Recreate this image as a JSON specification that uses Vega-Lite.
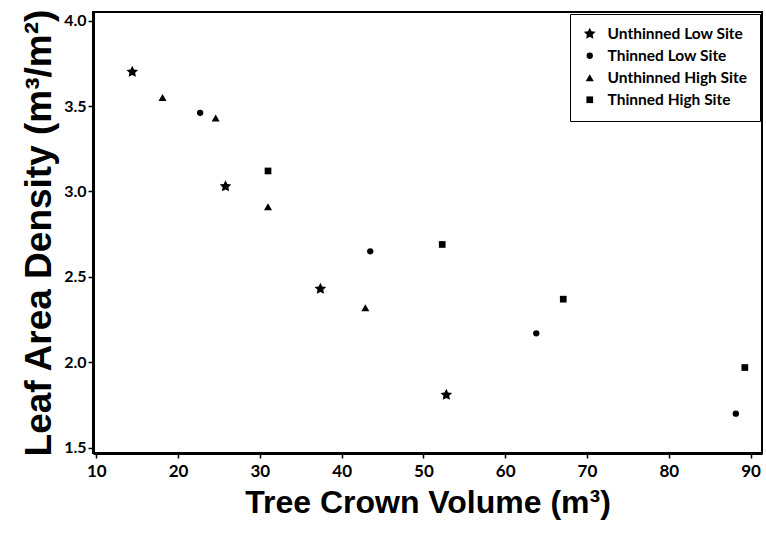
{
  "$schema": "https://vega.github.io/schema/vega-lite/v6.json",
  "autosize": {"type": "none"},
  "width": 669,
  "height": 441,
  "padding": {"left": 93, "top": 12, "right": 4, "bottom": 92},
  "background": "white",
  "config": {
    "view": {"stroke": "black", "strokeWidth": 2},
    "font": "Liberation Sans",
    "axis": {
      "domainColor": "black",
      "domainWidth": 3,
      "tickColor": "black",
      "tickWidth": 1.5,
      "tickSize": 5,
      "grid": false,
      "labelColor": "black",
      "labelFont": "Lato",
      "labelFontWeight": "bold",
      "titleColor": "black",
      "titleFont": "Liberation Sans",
      "titleFontWeight": "bold"
    }
  },
  "data": {
    "values": [
      {"volume": 14.4, "density": 3.70, "site": "Unthinned Low Site"},
      {"volume": 25.8, "density": 3.03, "site": "Unthinned Low Site"},
      {"volume": 37.4, "density": 2.43, "site": "Unthinned Low Site"},
      {"volume": 52.8, "density": 1.81, "site": "Unthinned Low Site"},
      {"volume": 22.7, "density": 3.46, "site": "Thinned Low Site"},
      {"volume": 43.5, "density": 2.65, "site": "Thinned Low Site"},
      {"volume": 63.8, "density": 2.17, "site": "Thinned Low Site"},
      {"volume": 88.2, "density": 1.70, "site": "Thinned Low Site"},
      {"volume": 18.1, "density": 3.55, "site": "Unthinned High Site"},
      {"volume": 24.6, "density": 3.43, "site": "Unthinned High Site"},
      {"volume": 31.0, "density": 2.91, "site": "Unthinned High Site"},
      {"volume": 42.9, "density": 2.32, "site": "Unthinned High Site"},
      {"volume": 31.0, "density": 3.12, "site": "Thinned High Site"},
      {"volume": 52.3, "density": 2.69, "site": "Thinned High Site"},
      {"volume": 67.1, "density": 2.37, "site": "Thinned High Site"},
      {"volume": 89.3, "density": 1.97, "site": "Thinned High Site"}
    ]
  },
  "mark": {"type": "point", "filled": true, "opacity": 1, "color": "black"},
  "encoding": {
    "x": {
      "field": "volume",
      "type": "quantitative",
      "title": "Tree Crown Volume (m³)",
      "scale": {"domain": [9.6, 91.4], "nice": false, "zero": false},
      "axis": {"values": [10, 20, 30, 40, 50, 60, 70, 80, 90], "labelFontSize": 17, "labelPadding": 5, "titlePadding": 8, "titleFontSize": 32}
    },
    "y": {
      "field": "density",
      "type": "quantitative",
      "title": "Leaf Area Density (m³/m²)",
      "scale": {"domain": [1.47, 4.05], "nice": false, "zero": false},
      "axis": {"values": [1.5, 2.0, 2.5, 3.0, 3.5, 4.0], "format": ".1f", "labelFontSize": 16, "labelPadding": 2, "titlePadding": 5, "titleFontSize": 37}
    },
    "shape": {
      "field": "site",
      "type": "nominal",
      "title": null,
      "scale": {
        "domain": ["Unthinned Low Site", "Thinned Low Site", "Unthinned High Site", "Thinned High Site"],
        "range": ["M0,-1L0.29,-0.4L0.95,-0.31L0.47,0.15L0.59,0.81L0,0.5L-0.59,0.81L-0.47,0.15L-0.95,-0.31L-0.29,-0.4Z", "circle", "triangle-up", "square"]
      },
      "legend": {
        "orient": "top-right",
        "offset": 2,
        "strokeColor": "black",
        "fillColor": "white",
        "padding": 12,
        "labelFont": "Lato",
        "labelFontWeight": "bold",
        "labelFontSize": 15.5,
        "labelColor": "black",
        "labelOffset": 10,
        "symbolFillColor": "black",
        "symbolStrokeColor": "black",
        "rowPadding": 5
      }
    },
    "size": {
      "field": "site",
      "type": "nominal",
      "title": null,
      "scale": {
        "type": "ordinal",
        "domain": ["Unthinned Low Site", "Thinned Low Site", "Unthinned High Site", "Thinned High Site"],
        "range": [150, 40, 65, 45]
      }
    }
  }
}
